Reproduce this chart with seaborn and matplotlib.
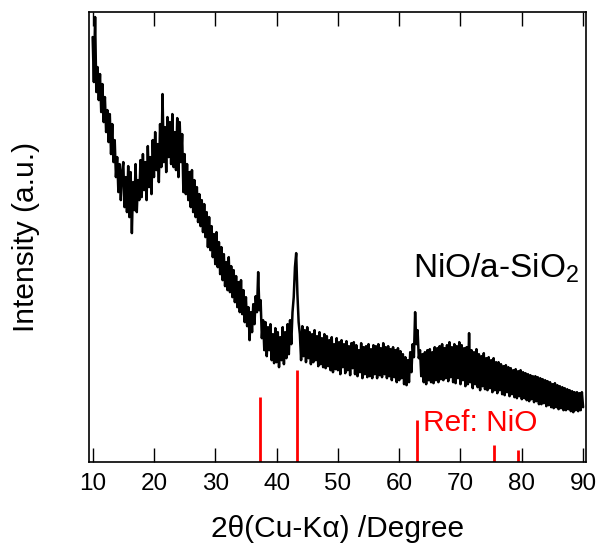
import numpy as np
import matplotlib
matplotlib.use("Agg")
import matplotlib.pyplot as plt
import seaborn as sns

# XRD trace at 0.2 deg steps from 10 deg (one row per degree)
intensity = [
    425, 380, 445, 370, 395,  # 10
    362, 388, 350, 378, 340,  # 11
    365, 330, 352, 320, 348,  # 12
    308, 338, 300, 322, 285,  # 13
    305, 270, 298, 262, 290,  # 14
    300, 255, 285, 250, 296,  # 15
    245, 290, 229, 280, 252,  # 16
    298, 250, 282, 262, 302,  # 17
    265, 308, 272, 300, 262,  # 18
    316, 275, 305, 268, 322,  # 19
    285, 330, 292, 318, 280,  # 20
    338, 295, 368, 300, 335,  # 21
    290, 345, 305, 340, 298,  # 22
    348, 295, 330, 292, 344,  # 23
    285, 340, 300, 328, 270,  # 24
    308, 268, 298, 262, 290,  # 25
    255, 292, 250, 282, 245,  # 26
    275, 240, 268, 236, 262,  # 27
    230, 258, 225, 250, 215,  # 28
    245, 212, 236, 205, 228,  # 29
    198, 230, 195, 220, 188,  # 30
    215, 182, 208, 176, 200,  # 31
    172, 205, 170, 196, 165,  # 32
    192, 160, 186, 155, 180,  # 33
    150, 182, 148, 172, 140,  # 34
    165, 136, 155, 122, 150,  # 35
    130, 158, 138, 166, 150,  # 36
    190, 152, 162, 124, 142,  # 37
    112, 140, 106, 135, 112,  # 38
    138, 102, 128, 99, 134,   # 39
    100, 130, 95, 125, 102,   # 40
    135, 98, 130, 104, 138,   # 41
    108, 142, 118, 150, 165,  # 42
    195, 209, 168, 140, 128,  # 43
    102, 136, 106, 132, 100,  # 44
    135, 104, 130, 98, 128,   # 45
    100, 132, 102, 126, 96,   # 46
    130, 98, 124, 95, 128,    # 47
    94, 126, 96, 122, 92,     # 48
    125, 90, 118, 93, 124,    # 49
    92, 120, 88, 122, 95,     # 50
    118, 89, 121, 92, 116,    # 51
    87, 119, 94, 120, 88,     # 52
    117, 86, 112, 90, 119,    # 53
    84, 115, 88, 116, 85,     # 54
    118, 86, 113, 84, 117,    # 55
    88, 116, 84, 118, 87,     # 56
    114, 85, 119, 88, 115,    # 57
    84, 116, 86, 113, 82,     # 58
    115, 85, 112, 80, 114,    # 59
    82, 111, 84, 108, 78,     # 60
    105, 77, 102, 80, 110,    # 61
    90, 118, 105, 150, 118,   # 62
    132, 104, 112, 86, 108,   # 63
    80, 110, 78, 112, 82,     # 64
    113, 80, 110, 79, 115,    # 65
    82, 114, 80, 116, 83,     # 66
    118, 82, 114, 84, 117,    # 67
    81, 120, 85, 115, 80,     # 68
    118, 79, 116, 84, 120,    # 69
    78, 117, 82, 114, 76,     # 70
    115, 78, 129, 80, 112,    # 71
    74, 110, 78, 113, 75,     # 72
    108, 72, 106, 76, 109,    # 73
    73, 104, 72, 105, 74,     # 74
    102, 70, 104, 72, 100,    # 75
    69, 100, 72, 98, 68,      # 76
    96, 67, 97, 70, 95,       # 77
    66, 94, 68, 92, 65,       # 78
    93, 64, 91, 66, 92,       # 79
    63, 90, 64, 89, 62,       # 80
    88, 61, 87, 63, 86,       # 81
    60, 86, 61, 85, 58,       # 82
    84, 58, 83, 59, 82,       # 83
    56, 81, 57, 80, 55,       # 84
    78, 54, 79, 55, 77,       # 85
    53, 76, 54, 75, 52,       # 86
    74, 52, 73, 53, 72,       # 87
    51, 71, 50, 70, 52,       # 88
    70, 51, 69, 52, 70,       # 89
    55,                       # 90
]
two_theta = 10 + 0.2 * np.arange(len(intensity))

# NiO reference pattern
ref_pos = [37.3, 43.3, 62.9, 75.4, 79.4]
ref_int = [65, 92, 42, 17, 12]

sns.set_style("white")
plt.rcParams["font.family"] = ["Liberation Sans", "DejaVu Sans"]
plt.rcParams["mathtext.default"] = "regular"
plt.rcParams["text.color"] = "black"
plt.rcParams["axes.labelcolor"] = "black"
plt.rcParams["xtick.color"] = "black"

fig = plt.figure(figsize=(5.99, 5.47), dpi=100)
ax = fig.add_axes([0.148, 0.155, 0.831, 0.823])

sns.lineplot(x=two_theta, y=intensity, color="black", linewidth=1.8,
             estimator=None, ax=ax)
ax.vlines(ref_pos, 0, ref_int, color="red", linewidth=2)

ax.text(62.3, 185, "NiO/a-SiO$_2$", fontsize=24, ha="left", va="baseline")
ax.text(63.9, 31, "Ref: NiO", fontsize=21.5, color="red", ha="left", va="baseline")

ax.set_xlim(9.35, 90.54)
ax.set_ylim(0, 450)
ax.set_xticks(range(10, 91, 10))
ax.set_yticks([])
ax.tick_params(axis="x", direction="in", length=10, width=1,
               top=True, bottom=True, labelsize=17.5, pad=8)
for s in ax.spines.values():
    s.set_linewidth(1.2)
    s.set_color("black")

ax.set_xlabel("2θ(Cu-Kα) /Degree", fontsize=21.5, labelpad=14)
ax.set_ylabel("Intensity (a.u.)", fontsize=21.5, labelpad=35)

fig.savefig("out.png", dpi=100)
